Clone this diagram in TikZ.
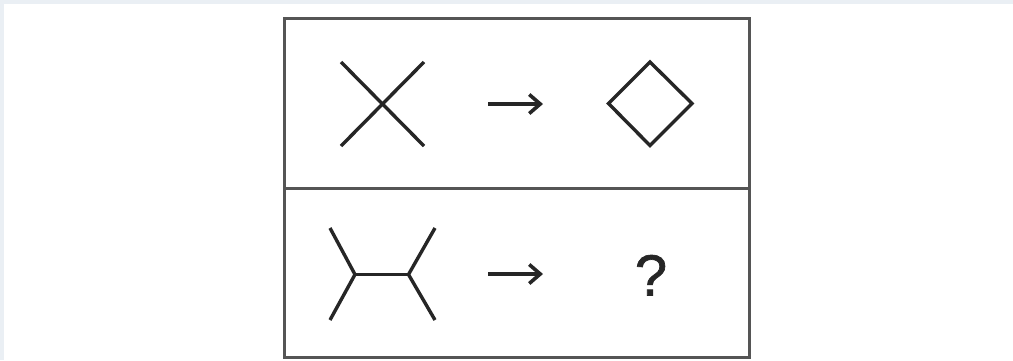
\documentclass[tikz,border=0pt]{standalone}
\usepackage{fontspec}
\setmainfont{Liberation Sans}
\newfontfamily\qfont[FakeBold=1.2]{Liberation Sans}
\usetikzlibrary{arrows.meta}
\definecolor{frameblue}{HTML}{EAEFF4}
\definecolor{boxgray}{HTML}{555555}
\definecolor{ink}{HTML}{262626}
\begin{document}
\begin{tikzpicture}[x=1pt,y=-1pt,
  panel/.style={draw=boxgray, line width=3pt},
  figline/.style={draw=ink, line width=3.4pt},
  arrowline/.style={draw=ink, line width=3.6pt, -{Straight Barb[length=11pt,width=19pt,line width=3.6pt]}},
  qmark/.style={inner sep=0pt, anchor=base, text=ink, font=\qfont\fontsize{58}{60}\selectfont}]
\useasboundingbox (0,0) rectangle (1013,360);
% background with light frame
\fill[frameblue] (0,0) rectangle (1013,360);
\fill[white] (3.5,3.5) rectangle (1013,360);
% panels
\draw[panel] (284,18) rectangle (749,357);
\draw[panel] (284,188.5) -- (749,188.5);
% top row: X shape
\coordinate (xa) at (341,62);
\coordinate (xb) at (424,146);
\coordinate (xc) at (341,146);
\coordinate (xd) at (424,62);
\draw[figline] (xa) -- (xb);
\draw[figline] (xc) -- (xd);
% top arrow
\coordinate (a1s) at (488,104);
\coordinate (a1e) at (543,104);
\draw[arrowline] (a1s) -- (a1e);
% diamond
\coordinate (dt) at (650,62);
\coordinate (dr) at (692,103.5);
\coordinate (db) at (650,145.5);
\coordinate (dl) at (608.5,103.5);
\draw[figline, line join=miter] (dt) -- (dr) -- (db) -- (dl) -- cycle;
% bottom row: H-like shape
\coordinate (ul) at (330,228);
\coordinate (jl) at (355,274.5);
\coordinate (ll) at (330,320);
\coordinate (jr) at (408.5,274.5);
\coordinate (ur) at (435,228);
\coordinate (lr) at (435,320);
\draw[figline] (ul) -- (jl) -- (ll);
\draw[figline] (jl) -- (jr);
\draw[figline] (ur) -- (jr) -- (lr);
% bottom arrow
\coordinate (a2s) at (488,274);
\coordinate (a2e) at (543,274);
\draw[arrowline] (a2s) -- (a2e);
% question mark
\node[qmark] (q) at (651,295.5) {?};
\end{tikzpicture}
\end{document}
